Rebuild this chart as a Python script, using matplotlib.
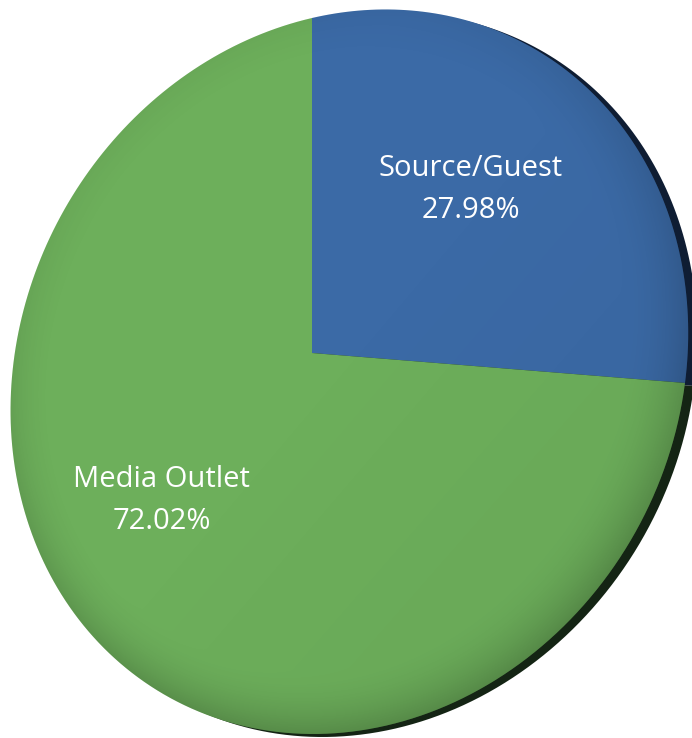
import numpy as np
import matplotlib
matplotlib.use("Agg")
import matplotlib.pyplot as plt
from matplotlib import transforms as mtransforms
from matplotlib.path import Path
from matplotlib.patches import Circle

categories = ["Source/Guest", "Media Outlet"]
shares = [27.98, 72.02]
face_colors = ["#3B6AA6", "#6DAF5B"]
side_colors = ["#0f1d33", "#142414"]

W, H = 692, 738

# Projective tilt that lays the unit pie disk into figure pixels (y grows downward)
TILT = np.array([[299.685, 20.044, 312.0],
                 [-79.558, -333.842, 353.0],
                 [-0.11008, 0.064245, 1.0]])
# the back face of the disk sits a little right and below the front face
SIDE = np.array([[1.0, 0.0, 9.0],
                 [0.0, 1.0, 3.0],
                 [0.0, 0.0, 1.0]]) @ TILT


class Projective(mtransforms.Transform):
    input_dims = 2
    output_dims = 2
    is_separable = False
    has_inverse = False

    def __init__(self, matrix, samples=24):
        super().__init__()
        self.matrix = np.asarray(matrix, float)
        self.samples = samples

    def transform_non_affine(self, values):
        v = np.atleast_2d(np.asarray(values, float))
        h = np.column_stack([v, np.ones(len(v))]) @ self.matrix.T
        return h[:, :2] / h[:, 2:3]

    def transform_path_non_affine(self, path):
        # sample the curved segments densely, then project the points
        t = np.linspace(0, 1, self.samples + 1)[1:]
        pts = []
        for seg, code in path.iter_bezier():
            if code == Path.MOVETO:
                pts.append(seg.control_points[0])
            else:
                pts.extend(seg(t))
        pts = np.asarray(pts)
        return Path(self.transform_non_affine(pts), closed=True)


fig = plt.figure(figsize=(W / 100, H / 100), dpi=100)
ax = fig.add_axes([0, 0, 1, 1])

labels = [f"{c}\n{s:.2f}%" for c, s in zip(categories, shares)]

back, _ = ax.pie(shares, colors=side_colors, startangle=90,
                 counterclock=False, wedgeprops=dict(linewidth=0))
face, texts = ax.pie(shares, colors=face_colors, labels=labels,
                     labeldistance=0.6, startangle=90, counterclock=False,
                     wedgeprops=dict(linewidth=0),
                     textprops=dict(color="white", fontsize=21,
                                    family="Open Sans", linespacing=1.6))

front = Projective(TILT)
side = Projective(SIDE)
for w in back:
    w.set_transform(side + ax.transData)
for w in face:
    w.set_transform(front + ax.transData)
label_tr = mtransforms.offset_copy(ax.transData, fig=fig, y=4, units="dots")
for t in texts:
    t.set_position(front.transform(np.array(t.get_position(), float)))
    t.set_transform(label_tr)
    t.set_ha("center")
    t.set_va("center")
    t.set_zorder(5)

# soft darkening toward the lower rim of the face
yy, xx = np.mgrid[0:H, 0:W] + 0.5
inv = np.linalg.inv(TILT)
hu = inv[0, 0] * xx + inv[0, 1] * yy + inv[0, 2]
hv = inv[1, 0] * xx + inv[1, 1] * yy + inv[1, 2]
hw = inv[2, 0] * xx + inv[2, 1] * yy + inv[2, 2]
u, v = hu / hw, hv / hw
r = np.hypot(u, v)
edge = np.clip((r - 0.84) / 0.16, 0, 1) ** 2
weight = 0.04 + 0.14 * np.clip(0.5 - 0.6 * v + 0.2 * u, 0, 1)
shade = edge * weight + np.clip((u - v) * 0.025, 0, 0.04)
rgba = np.zeros((H, W, 4))
rgba[..., 3] = np.clip(shade, 0, 1)
img = ax.imshow(rgba, extent=(0, W, H, 0), interpolation="bilinear", zorder=2)
clip = Circle((0, 0), 1.0, transform=front + ax.transData)
img.set_clip_path(clip)

ax.set_aspect("auto")
ax.set_xlim(0, W)
ax.set_ylim(H, 0)
ax.axis("off")

fig.savefig("out.png", dpi=100)
